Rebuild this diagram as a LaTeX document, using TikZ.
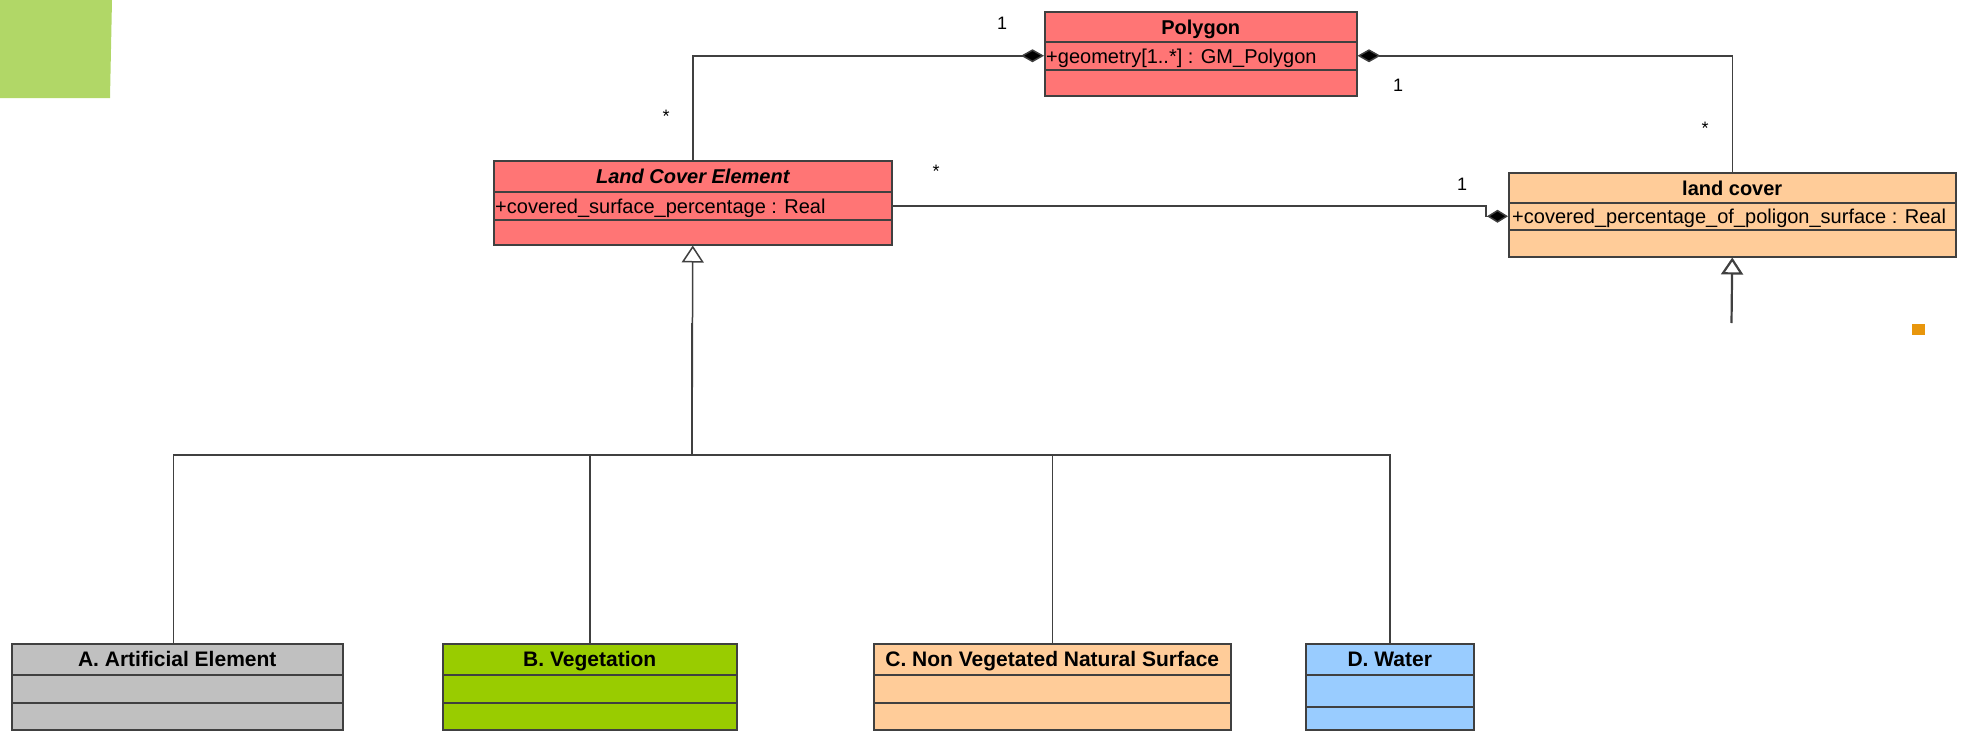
\documentclass[tikz,border=0pt]{standalone}
\usepackage{fontspec}
\setmainfont{Liberation Sans}
\usetikzlibrary{arrows.meta}
\definecolor{boxred}{HTML}{FF7575}
\definecolor{boxpeach}{HTML}{FFCC99}
\definecolor{boxgray}{HTML}{C0C0C0}
\definecolor{boxgreen}{HTML}{99CC00}
\definecolor{boxblue}{HTML}{99CCFF}
\definecolor{linegray}{HTML}{404040}
\definecolor{leaf}{HTML}{B1D767}
\definecolor{marker}{HTML}{E8960C}
\tikzset{
  compart/.style={draw=linegray, line width=1.5pt, inner sep=0pt, anchor=north west},
  titletext/.style={font=\fontsize{20}{24}\selectfont\bfseries, inner sep=0pt, text height=15pt, text depth=0pt},
  attrtext/.style={font=\fontsize{20}{24}\selectfont, inner sep=0pt, anchor=west, text height=14.5pt, text depth=0pt},
  mult/.style={font=\fontsize{18}{22}\selectfont, inner sep=0pt, anchor=base},
  conn/.style={draw=linegray, line width=1.5pt},
  thickconn/.style={draw=linegray, line width=2.5pt},
  composition/.style={conn, {Diamond[length=23pt,width=13pt,fill=black]}-},
  compositionend/.style={conn, -{Diamond[length=21pt,width=13pt,fill=black]}},
  generalization/.style={conn, {Triangle[open,length=17pt,width=22pt,fill=white]}-},
}
% name, x1, y1, x2, d1, d2, y2, fill, title
\newcommand\umlclass[9]{%
  \node[compart, fill=#8, minimum width={(#4-#2)*1pt}, minimum height={(#5-#3)*1pt}] (#1) at (#2,#3) {};
  \node[compart, fill=#8, minimum width={(#4-#2)*1pt}, minimum height={(#6-#5)*1pt}] (#1a) at (#2,#5) {};
  \node[compart, fill=#8, minimum width={(#4-#2)*1pt}, minimum height={(#7-#6)*1pt}] (#1o) at (#2,#6) {};
  \node[titletext] (#1t) at (#1.center) {#9};
}
\begin{document}
\begin{tikzpicture}[x=1pt, y=-1pt]
\useasboundingbox (0,0) rectangle (1963,731);
% decoration
\fill[leaf] (0,0) -- (112,0) -- (110,98) -- (0,98) -- cycle;
\fill[marker] (1912,324) rectangle (1925,335);

% classes
\umlclass{poly}{1044}{11}{1356}{41}{69}{95}{boxred}{Polygon}
\umlclass{lce}{493}{160}{891}{191}{219}{244}{boxred}{\itshape Land Cover Element}
\umlclass{lc}{1508}{172}{1955}{202}{229}{256}{boxpeach}{land cover}
\umlclass{A}{11}{643}{342}{674}{702}{729}{boxgray}{\fontsize{21}{25}\selectfont A. Artificial Element}
\umlclass{B}{442}{643}{736}{674}{702}{729}{boxgreen}{\fontsize{21}{25}\selectfont B. Vegetation}
\umlclass{C}{873}{643}{1230}{674}{702}{729}{boxpeach}{\fontsize{21}{25}\selectfont C. Non Vegetated Natural Surface}
\umlclass{D}{1305}{643}{1473}{674}{706}{729}{boxblue}{\fontsize{21}{25}\selectfont D. Water}

\node[attrtext] (polyat) at ([xshift=2pt]polya.west) {+geometry[1..*] : GM\_Polygon};
\node[attrtext] (lceat) at ([xshift=2pt]lcea.west) {+covered\_surface\_percentage : Real};
\node[attrtext] (lcat) at ([xshift=4pt]lca.west) {+covered\_percentage\_of\_poligon\_surface : Real};

% associations
\draw[composition] (polya.west) -| (lce.north);
\draw[composition] (polya.east) -| (lc.north);
\coordinate (bend) at (1486,205);
\draw[compositionend] (lcea.east) -- (lcea.east -| bend) |- (lca.west);

% generalizations
\coordinate (hub) at (692,455);
\coordinate (hubtop) at (692,323);
\draw[generalization] (lceo.south) -- (hub);
\draw[thickconn] (hubtop) -- (hub);
\draw[conn] (hub) -| ([xshift=-4pt]A.north);
\draw[conn] (hub) -| (B.north);
\draw[conn] (hub) -| (C.north);
\draw[conn] (hub) -| (D.north);
\coordinate (lcend) at (1731.5,323);
\draw[generalization, line width=2.2pt] (lco.south) -- (lcend);

% multiplicities
\node[mult] (m1) at (1002,29) {1};
\node[mult] (m2) at (666,122) {*};
\node[mult] (m3) at (1398,91) {1};
\node[mult] (m4) at (1705,134) {*};
\node[mult] (m5) at (936,177) {*};
\node[mult] (m6) at (1462,190) {1};
\end{tikzpicture}
\end{document}
